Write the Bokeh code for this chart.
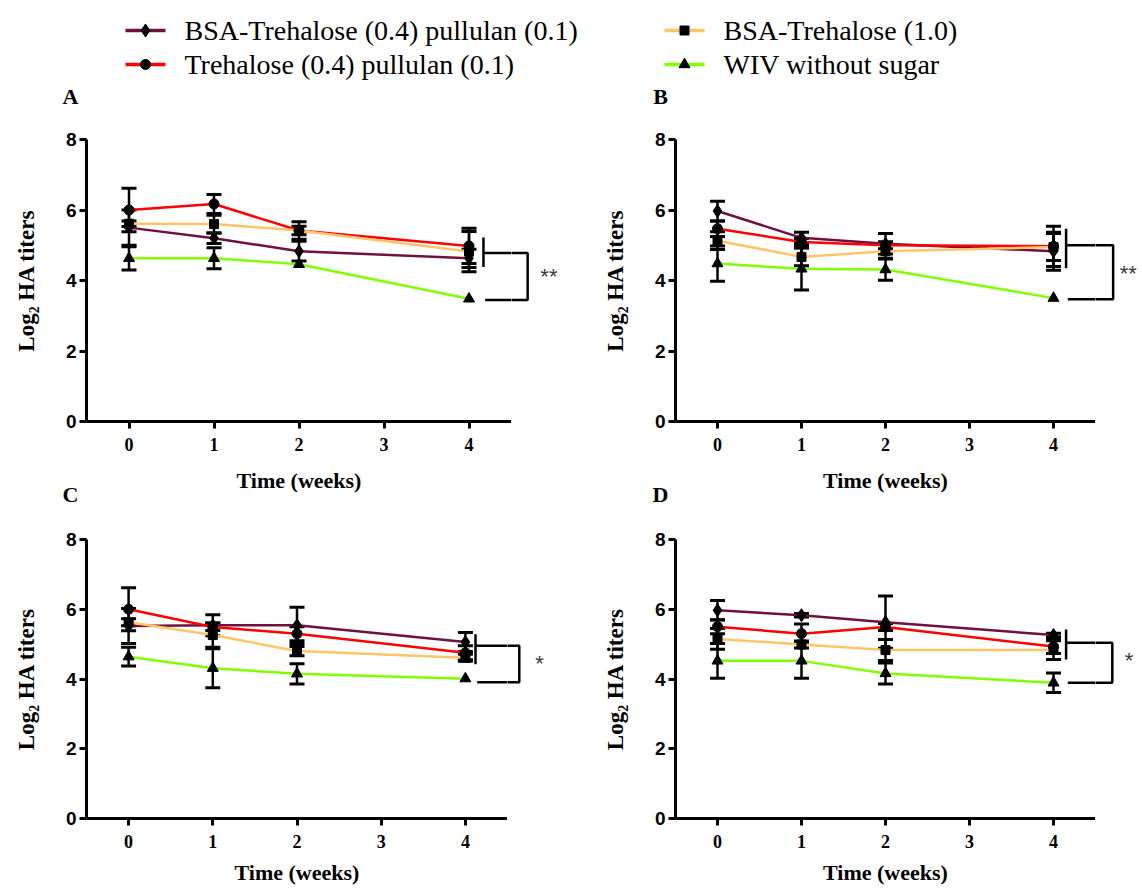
from bokeh.plotting import figure
from bokeh.layouts import column, row
from bokeh.models import Range1d, FixedTicker, ColumnDataSource
from bokeh.core.properties import value
from bokeh.embed import file_html
from bokeh.resources import INLINE

# ---------------- data ----------------
weeks = [0, 1, 2, 4]
x_ticks = [0, 1, 2, 3, 4]
y_ticks = [0, 2, 4, 6, 8]

series_names = [
    "BSA-Trehalose (0.4) pullulan (0.1)",
    "Trehalose (0.4) pullulan (0.1)",
    "BSA-Trehalose (1.0)",
    "WIV without sugar",
]
series_colors = ["#701040", "#FF0000", "#FFC468", "#80FF00"]
series_markers = ["diamond", "circle", "square", "triangle"]
marker_sizes = [13, 10, 9, 11]

# Panel A
a_bsa_tp = [5.50, 5.20, 4.83, 4.63]
a_bsa_tp_err = [0.50, 0.15, 0.28, 0.26]
a_tre_p = [6.00, 6.17, 5.42, 4.98]
a_tre_p_err = [0.62, 0.27, 0.25, 0.50]
a_bsa_t = [5.61, 5.60, 5.42, 4.82]
a_bsa_t_err = [0.08, 0.25, 0.12, 0.57]
a_wiv = [4.63, 4.63, 4.46, 3.48]
a_wiv_err = [0.33, 0.30, 0.00, 0.00]

# Panel B
b_bsa_tp = [5.97, 5.21, 5.04, 4.83]
b_bsa_tp_err = [0.28, 0.16, 0.29, 0.54]
b_tre_p = [5.47, 5.09, 5.00, 4.97]
b_tre_p_err = [0.22, 0.10, 0.10, 0.57]
b_bsa_t = [5.13, 4.67, 4.83, 4.95]
b_bsa_t_err = [0.25, 0.25, 0.20, 0.38]
b_wiv = [4.48, 4.33, 4.31, 3.50]
b_wiv_err = [0.50, 0.60, 0.30, 0.00]

# Panel C
c_bsa_tp = [5.52, 5.54, 5.54, 5.06]
c_bsa_tp_err = [0.50, 0.30, 0.52, 0.27]
c_tre_p = [6.00, 5.49, 5.30, 4.75]
c_tre_p_err = [0.62, 0.10, 0.20, 0.20]
c_bsa_t = [5.63, 5.26, 4.80, 4.61]
c_bsa_t_err = [0.10, 0.35, 0.13, 0.10]
c_wiv = [4.64, 4.31, 4.15, 4.01]
c_wiv_err = [0.27, 0.56, 0.29, 0.00]

# Panel D
d_bsa_tp = [5.97, 5.83, 5.63, 5.26]
d_bsa_tp_err = [0.28, 0.05, 0.75, 0.05]
d_tre_p = [5.50, 5.30, 5.49, 4.93]
d_tre_p_err = [0.20, 0.28, 0.10, 0.20]
d_bsa_t = [5.15, 4.99, 4.83, 4.83]
d_bsa_t_err = [0.30, 0.10, 0.30, 0.27]
d_wiv = [4.52, 4.52, 4.16, 3.89]
d_wiv_err = [0.50, 0.50, 0.30, 0.28]

# significance brackets: [bar_x, bar_lo, bar_hi, top_y, right_x, bottom_y, star_x, star_y]
a_sig = [4.17, 4.38, 5.22, 4.78, 4.69, 3.45, 4.94, 4.11]
b_sig = [4.15, 4.35, 5.47, 5.00, 4.71, 3.47, 4.89, 4.20]
c_sig = [4.12, 4.42, 5.28, 4.95, 4.64, 3.91, 4.88, 4.45]
d_sig = [4.15, 4.56, 5.42, 5.04, 4.70, 3.89, 4.90, 4.52]
a_stars, b_stars, c_stars, d_stars = "**", "**", "*", "*"

panel_letters = ["A", "B", "C", "D"]
x_title = "Time (weeks)"
y_title = "Log\u2082 HA titers"

SERIF = "Liberation Serif"
SANS = "Liberation Sans"

# ---------------- layout constants (pixels) ----------------
TOTAL_W = 1140
LEFT = 86                 # room for y axis, its labels and title
TOP_H = 108               # legend strip (+ letters A, B)
MID_H = 46                # strip with row-1 x titles and letters C, D
ROW1 = dict(height=352, top=31, bottom=39)
ROW2 = dict(height=382, top=33, bottom=70)
LEFT_MAIN_W, RIGHT_MAIN_W = 511, 506
LEFT_SIG_W = 589 - LEFT_MAIN_W
RIGHT_SIG_W = TOTAL_W - 589 - RIGHT_MAIN_W


def style_axes(p, with_xlabel):
    for ax in (p.xaxis[0], p.yaxis[0]):
        ax.axis_line_width = 3
        ax.axis_line_color = "black"
        ax.major_tick_line_width = 3
        ax.major_tick_line_color = "black"
        ax.major_tick_in = 0
        ax.major_tick_out = 7
        ax.minor_tick_line_color = None
        ax.major_label_text_color = "black"
        ax.axis_label_text_color = "black"
        ax.axis_label_text_font = SERIF
        ax.axis_label_text_font_style = "bold"

    xa = p.xaxis[0]
    xa.ticker = FixedTicker(ticks=x_ticks)
    xa.major_label_text_font = SERIF
    xa.major_label_text_font_style = "bold"
    xa.major_label_text_font_size = "18px"
    xa.major_label_standoff = 9
    if with_xlabel:
        xa.axis_label = x_title
        xa.axis_label_text_font_size = "22px"
        xa.axis_label_standoff = 9

    ya = p.yaxis[0]
    ya.bounds = (0, 8)
    ya.ticker = FixedTicker(ticks=y_ticks)
    ya.major_label_text_font = SANS
    ya.major_label_text_font_style = "bold"
    ya.major_label_text_font_size = "19px"
    ya.major_label_standoff = 3
    ya.axis_label = y_title
    ya.axis_label_text_font_size = "23px"
    ya.axis_label_standoff = 24


def bare(p):
    p.outline_line_color = None
    p.xgrid.visible = False
    p.ygrid.visible = False
    p.background_fill_color = "white"
    p.border_fill_color = "white"


def draw_bracket(p, sig, stars):
    bar_x, bar_lo, bar_hi, top_y, right_x, bottom_y, star_x, star_y = sig
    p.segment(x0=[bar_x], y0=[bar_lo], x1=[bar_x], y1=[bar_hi], line_color="black", line_width=2.5)
    p.line([bar_x, right_x, right_x, bar_x + 0.02], [top_y, top_y, bottom_y, bottom_y],
           line_color="black", line_width=2.5)
    if stars:
        p.text(x=[star_x], y=[star_y], text=[stars], text_font=value(SANS), text_font_size="22px",
               text_align="center", text_baseline="middle", text_color="#3c3c3c")


def make_panel(vals, errs, sig, stars, main_w, sig_w, rowdims, with_xlabel):
    ppw = (main_w - LEFT) / 5.0
    yr = Range1d(0, 8)
    p = figure(width=main_w, height=rowdims["height"], output_backend="svg", toolbar_location=None,
               x_range=Range1d(-0.5, 4.5), y_range=yr,
               min_border_left=LEFT, min_border_right=0, min_border_top=rowdims["top"],
               min_border_bottom=rowdims["bottom"], title=None)
    bare(p)
    style_axes(p, with_xlabel)

    # error bars
    for v, e in zip(vals, errs):
        t = [w for w, ee in zip(weeks, e) if ee > 0]
        hi = [vv + ee for vv, ee in zip(v, e) if ee > 0]
        lo = [vv - ee for vv, ee in zip(v, e) if ee > 0]
        src = ColumnDataSource(dict(t=t, hi=hi, lo=lo))
        p.segment(x0="t", y0="lo", x1="t", y1="hi", source=src, line_color="black", line_width=2.5)
        p.scatter(x="t", y="hi", source=src, marker="dash", size=15, line_width=3, line_color="black")
        p.scatter(x="t", y="lo", source=src, marker="dash", size=15, line_width=3, line_color="black")

    for v, c in zip(vals, series_colors):
        p.line(weeks, v, line_color=c, line_width=2.5)

    for v, m, s in zip(vals, series_markers, marker_sizes):
        p.scatter(weeks, v, marker=m, size=s, fill_color="black", line_color="black")

    draw_bracket(p, sig, "")

    # continuation strip to the right (same scales) for the bracket and stars
    q = figure(width=sig_w, height=rowdims["height"], output_backend="svg", toolbar_location=None,
               x_range=Range1d(4.5, 4.5 + sig_w / ppw), y_range=yr,
               x_axis_type=None, y_axis_type=None,
               min_border_left=0, min_border_right=0, min_border_top=rowdims["top"],
               min_border_bottom=rowdims["bottom"], title=None)
    bare(q)
    draw_bracket(q, sig, stars)
    return p, q


pA, qA = make_panel([a_bsa_tp, a_tre_p, a_bsa_t, a_wiv],
                    [a_bsa_tp_err, a_tre_p_err, a_bsa_t_err, a_wiv_err], a_sig, a_stars,
                    LEFT_MAIN_W, LEFT_SIG_W, ROW1, False)
pB, qB = make_panel([b_bsa_tp, b_tre_p, b_bsa_t, b_wiv],
                    [b_bsa_tp_err, b_tre_p_err, b_bsa_t_err, b_wiv_err], b_sig, b_stars,
                    RIGHT_MAIN_W, RIGHT_SIG_W, ROW1, False)
pC, qC = make_panel([c_bsa_tp, c_tre_p, c_bsa_t, c_wiv],
                    [c_bsa_tp_err, c_tre_p_err, c_bsa_t_err, c_wiv_err], c_sig, c_stars,
                    LEFT_MAIN_W - 4, LEFT_SIG_W + 4, ROW2, True)
pD, qD = make_panel([d_bsa_tp, d_tre_p, d_bsa_t, d_wiv],
                    [d_bsa_tp_err, d_tre_p_err, d_bsa_t_err, d_wiv_err], d_sig, d_stars,
                    RIGHT_MAIN_W, RIGHT_SIG_W, ROW2, True)


def strip(h):
    s = figure(width=TOTAL_W, height=h, x_range=Range1d(0, TOTAL_W), y_range=Range1d(h, 0),
               output_backend="svg", toolbar_location=None, x_axis_type=None, y_axis_type=None,
               min_border=0, title=None)
    bare(s)
    return s


def letter(s, x, y, t):
    s.text(x=[x], y=[y], text=[t], text_font=value(SERIF), text_font_style="bold",
           text_font_size="22px", text_align="center", text_baseline="middle", text_color="black")


# ---------------- top strip: legend + letters A, B ----------------
top = strip(TOP_H)
col_x = [125, 664]
row_y = [30, 64]
slots = [(0, 0), (0, 1), (1, 0), (1, 1)]  # (col,row) for each series
for (ci, ri), name, c, m, s in zip(slots, series_names, series_colors, series_markers, marker_sizes):
    x0 = col_x[ci]
    y0 = row_y[ri]
    top.line([x0, x0 + 40], [y0, y0], line_color=c, line_width=3.5)
    top.scatter([x0 + 20], [y0], marker=m, size=s, fill_color="black", line_color="black")
    top.text(x=[x0 + 59], y=[y0], text=[name], text_font=value(SERIF), text_font_size="28px",
             text_align="left", text_baseline="middle", text_color="black")
letter(top, 70, 96, panel_letters[0])
letter(top, 660, 96, panel_letters[1])

# ---------------- middle strip: row-1 x titles + letters C, D ----------------
mid = strip(MID_H)
ppw_l = (LEFT_MAIN_W - LEFT) / 5.0
ppw_r = (RIGHT_MAIN_W - LEFT) / 5.0
for x0, ppw in ((LEFT, ppw_l), (LEFT_MAIN_W + LEFT_SIG_W + LEFT, ppw_r)):
    mid.text(x=[x0 + 2.5 * ppw], y=[20], text=[x_title], text_font=value(SERIF),
             text_font_style="bold", text_font_size="22px", text_align="center",
             text_baseline="middle", text_color="black")
letter(mid, 70, 34, panel_letters[2])
letter(mid, 660, 34, panel_letters[3])

layout = column(top, row(pA, qA, pB, qB), mid, row(pC, qC, pD, qD))

open("out.html", "w").write(file_html(layout, INLINE))
